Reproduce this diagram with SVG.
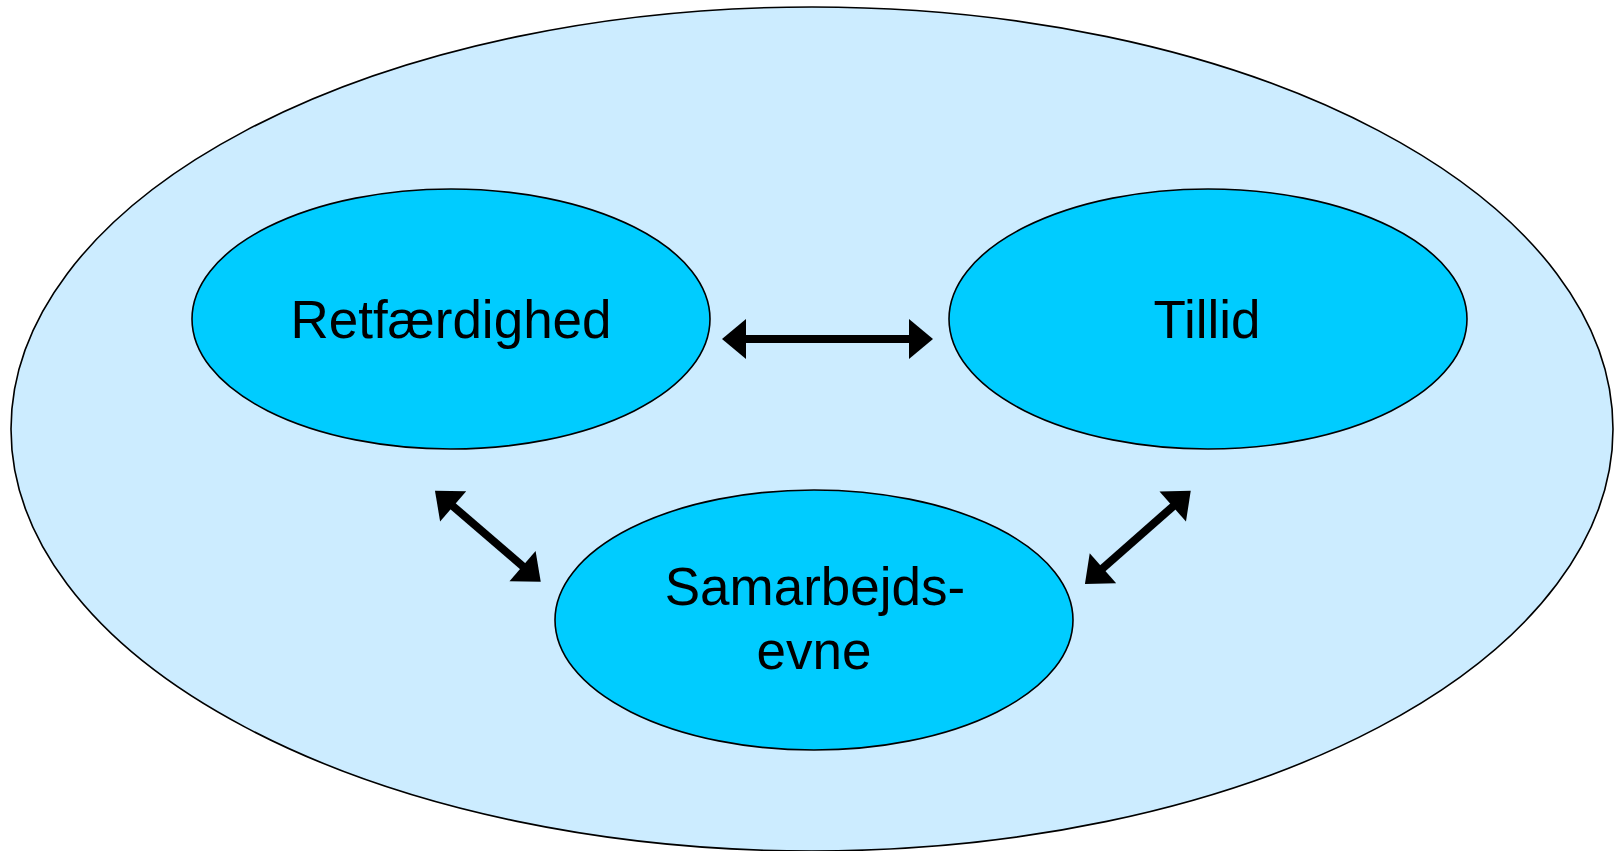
<svg xmlns="http://www.w3.org/2000/svg" width="1615" height="851" viewBox="0 0 1615 851">
<style>
.outer{fill:#CCECFF;stroke:#000;stroke-width:1.6}
.node{fill:#00CCFF;stroke:#000;stroke-width:1.6}
.lbl{font-family:"Liberation Sans",Arial,sans-serif;font-size:53px;fill:#000;text-anchor:middle}
.arr{stroke:#000;stroke-width:8;fill:none;marker-start:url(#head);marker-end:url(#head)}
</style>
<defs>
<marker id="head" markerUnits="userSpaceOnUse" markerWidth="30" markerHeight="44" viewBox="-2 -22 30 44" refX="0" refY="0" orient="auto-start-reverse">
<path d="M-1,-20 L23,0 L-1,20 Z" fill="#000"/>
</marker>
</defs>
<g id="background">
<ellipse class="outer" cx="812" cy="429" rx="801" ry="422"/>
</g>
<g id="node-retfaerdighed">
<ellipse class="node" cx="451" cy="319" rx="259" ry="130"/>
<text class="lbl" x="451" y="338">Retfærdighed</text>
</g>
<g id="node-tillid">
<ellipse class="node" cx="1208" cy="319" rx="259" ry="130"/>
<text class="lbl" x="1207" y="338">Tillid</text>
</g>
<g id="node-samarbejdsevne">
<ellipse class="node" cx="814" cy="620" rx="259" ry="130"/>
<text class="lbl" x="815" y="605">Samarbejds-</text>
<text class="lbl" x="814" y="669">evne</text>
</g>
<g id="connectors">
<line class="arr" x1="745" y1="339" x2="910" y2="339"/>
<line class="arr" x1="452.4" y1="505.7" x2="523.3" y2="566.7"/>
<line class="arr" x1="1102.2" y1="568.8" x2="1173.5" y2="505.9"/>
</g>
</svg>
